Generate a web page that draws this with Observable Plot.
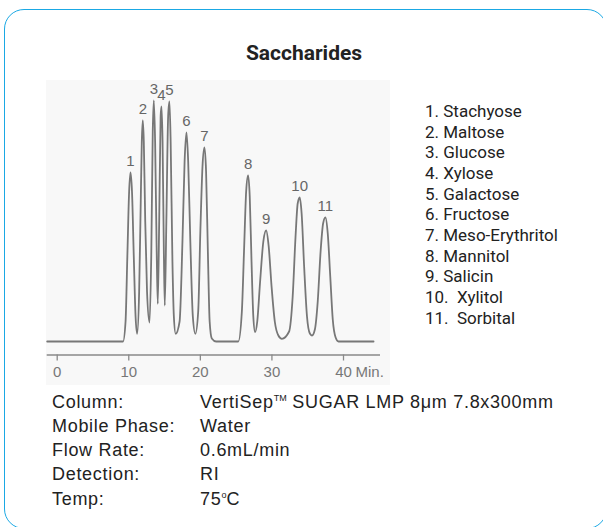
<!DOCTYPE html>
<html>
<head>
<meta charset="utf-8">
<script src="https://cdn.jsdelivr.net/npm/d3@7"></script>
<script src="https://cdn.jsdelivr.net/npm/@observablehq/plot@0.6"></script>
<style>
  html, body { margin: 0; padding: 0; background: #fff; }
  #page { position: relative; width: 603px; height: 527px; overflow: hidden; background: #fff; }
  #box { position: absolute; left: 4px; top: 9px; width: 603px; height: 520px; box-sizing: border-box;
         border: 1.6px solid #1aa8e4; border-radius: 20px; }
  #shade { position: absolute; left: 46px; top: 80px; width: 344px; height: 305px; background: #f8f8f8; }
  #title { position: absolute; left: 204px; width: 200px; top: 42.5px; text-align: center;
           font-family: Roboto, "Liberation Sans", sans-serif; font-weight: bold;
           font-size: 21px; line-height: 21px; color: #222; white-space: nowrap; }
  #chart { position: absolute; left: 0; top: 60px; }
  #list { position: absolute; left: 425px; top: 101px; font-family: Roboto, "Liberation Sans", sans-serif;
          font-size: 17px; line-height: 20.66px; color: #222; white-space: pre; }
  #cond { position: absolute; left: 0; top: 389.6px; font-family: "Liberation Sans", Arial, sans-serif; font-size: 18px;
          line-height: 24.3px; color: #222; letter-spacing: 0.7px; }
  #cond .row { position: relative; height: 24.3px; white-space: pre; }
  #cond .lab { position: absolute; left: 52px; }
  #cond .val { position: absolute; left: 200px; }
  sup { font-size: 9px; line-height: 0; vertical-align: 7px; letter-spacing: 0; }
</style>
</head>
<body>
<div id="page">
  <div id="shade"></div>
  <div id="box"></div>
  <div id="title"></div>
  <div id="chart"></div>
  <div id="list"></div>
  <div id="cond"></div>
</div>
<script>
// ---- Data ----
const chartTitle = "Saccharides";

// traced detector trace: retention time (min) and signal (arbitrary units)
const traceTime = [
  -1.4, 9.2, 9.55, 9.8, 10.05, 10.24, 10.45, 10.7, 10.95, 11.17,
  11.45, 11.65, 11.82, 11.96, 12.1, 12.3, 12.55, 12.9,
  13.15, 13.35, 13.5, 13.68, 13.9, 14.05,
  14.25, 14.45, 14.57, 14.72, 14.9, 15.03,
  15.25, 15.5, 15.68, 15.85, 16.1, 16.3, 16.55,
  17.1, 17.5, 17.8, 18.06, 18.3, 18.6, 18.95, 19.3,
  19.7, 20.0, 20.3, 20.57, 20.8, 21.05, 21.3, 21.6, 22.2,
  25.3, 25.8, 26.1, 26.4, 26.67, 26.9, 27.15, 27.4, 27.65,
  27.95, 28.35, 28.8, 29.19, 29.55, 29.95, 30.4, 30.9, 31.4,
  32.4, 32.9, 33.3, 33.6, 33.88, 34.15, 34.5, 34.9, 35.3, 35.6,
  36.0, 36.4, 36.8, 37.15, 37.47, 37.8, 38.15, 38.5, 38.9, 39.3,
  44.2
];
const traceSignal = [
  0, 0, 20, 85, 150, 169, 150, 85, 25, 7.7,
  50, 130, 200, 221, 200, 120, 50, 19,
  90, 210, 241, 200, 90, 37.7,
  120, 225, 235, 200, 90, 36,
  120, 225, 240, 200, 80, 25, 7.7,
  20, 100, 180, 209, 180, 100, 25, 7.7,
  30, 110, 175, 194, 170, 90, 20, 3, 0,
  0, 30, 90, 150, 166, 145, 80, 25, 9.3,
  20, 60, 100, 111, 95, 55, 20, 6, 2.7,
  10, 45, 105, 138, 144, 128, 75, 25, 8, 6,
  12, 40, 90, 118, 124, 108, 65, 22, 4, 0,
  0
];

// peaks
const peakIds     = [1, 2, 3, 4, 5, 6, 7, 8, 9, 10, 11];
const peakTimes   = [10.24, 11.96, 13.5, 14.57, 15.68, 18.06, 20.57, 26.67, 29.19, 33.88, 37.47];
const peakHeights = [169, 221, 241, 235, 240, 209, 194, 166, 111, 144, 124];

// axis
const tickValues = [0, 10, 20, 30, 40];
const tickLabels = ["0", "10", "20", "30", "40"];
const axisUnit = "Min.";

// legend list
const compounds = ["1. Stachyose", "2. Maltose", "3. Glucose", "4. Xylose", "5. Galactose", "6. Fructose",
                   "7. Meso-Erythritol", "8. Mannitol", "9. Salicin", "10.  Xylitol", "11.  Sorbital"];

// conditions
const condLabels = ["Column:", "Mobile Phase:", "Flow Rate:", "Detection:", "Temp:"];
const condValues = ["VertiSep<sup>TM</sup> SUGAR LMP 8μm 7.8x300mm", "Water", "0.6mL/min", "RI", "75<sup>o</sup>C"];

// ---- Render ----
document.getElementById("title").textContent = chartTitle;
document.getElementById("list").textContent = compounds.join("\n");
document.getElementById("cond").innerHTML = condLabels.map((l, i) =>
  `<div class="row"><span class="lab">${l}</span><span class="val">${condValues[i]}</span></div>`).join("");

const lastTick = tickValues[tickValues.length - 1];

const chart = Plot.plot({
  width: 400,
  height: 330,
  marginLeft: 46.7,
  marginRight: 20,
  marginTop: 21,
  marginBottom: 35.5,
  x: {domain: [0, 40], insetLeft: 10, insetRight: 37},
  y: {domain: [0, 260], insetBottom: 13.5, axis: null},
  style: {background: "none", overflow: "visible", fontFamily: "'Liberation Sans', Arial, sans-serif"},
  marks: [
    Plot.ruleY([0], {dy: 13.5, stroke: "#8a8a8a", strokeWidth: 1.5}),
    Plot.axisX({ticks: tickValues, tickFormat: (d, i) => tickLabels[i], tickSize: 6, tickPadding: 5,
                fontSize: 15, fill: "#777", stroke: "#8a8a8a", strokeWidth: 1.3, label: null}),
    Plot.text([axisUnit], {x: [lastTick], frameAnchor: "bottom", dy: 11, dx: 12, lineAnchor: "top",
                textAnchor: "start", fontSize: 15, fill: "#777", text: d => d}),
    Plot.line(traceTime, {x: traceTime, y: traceSignal, curve: "monotone-x", stroke: "#777", strokeWidth: 1.8}),
    Plot.text(peakIds, {x: peakTimes, y: peakHeights, text: peakIds.map(String), dy: -11,
                lineAnchor: "middle", fontSize: 15, fill: "#666"})
  ]
});
document.getElementById("chart").appendChild(chart);
</script>
</body>
</html>
